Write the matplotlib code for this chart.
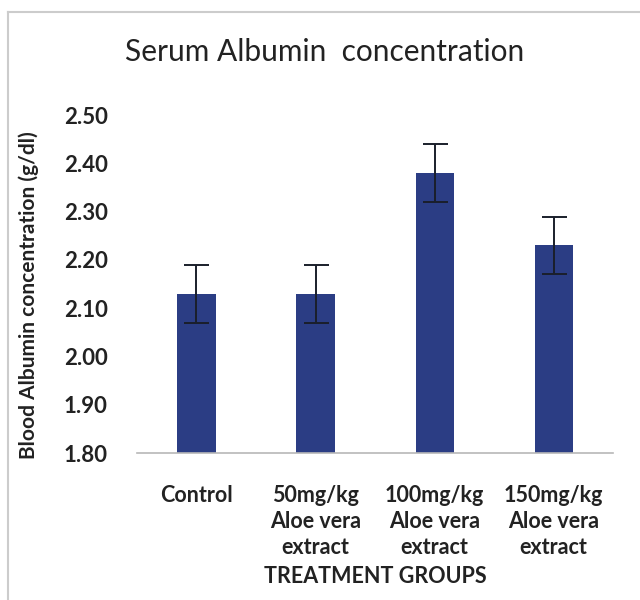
import matplotlib.pyplot as plt
from matplotlib.lines import Line2D

plt.rcParams['font.family'] = ['Lato', 'DejaVu Sans']

groups = ['Control',
          '50mg/kg\nAloe vera\nextract',
          '100mg/kg\nAloe vera\nextract',
          '150mg/kg\nAloe vera\nextract']
albumin = [2.13, 2.13, 2.38, 2.23]
err = [0.06, 0.06, 0.06, 0.06]
yticks = [1.80, 1.90, 2.00, 2.10, 2.20, 2.30, 2.40, 2.50]

fig = plt.figure(figsize=(6.4, 6.0), dpi=100)
ax = fig.add_axes([0.214, 0.245, 0.744, 0.563])

x = range(len(groups))
ax.bar(x, albumin, width=0.32, color='#2B3D84', zorder=2)
ax.errorbar(x, albumin, yerr=err, fmt='none', ecolor='#1a1f2b',
            elinewidth=1.4, capsize=9, capthick=1.4, zorder=3)

ax.set_xlim(-0.5, len(groups) - 0.5)
ax.set_ylim(1.80, 2.50)
ax.set_yticks(yticks)
ax.set_yticklabels([f'{v:.2f}' for v in yticks], fontsize=16, fontweight='bold',
                   color='#222222')
ax.set_xticks(list(x))
ax.set_xticklabels(groups, fontsize=15.5, fontweight='bold', color='#222222',
                   linespacing=1.3, va='top')
ax.tick_params(axis='both', length=0)
ax.tick_params(axis='y', pad=21)
ax.tick_params(axis='x', pad=23)

for s in ['top', 'right', 'left']:
    ax.spines[s].set_visible(False)
ax.spines['bottom'].set_color('#b8b8b8')
ax.spines['bottom'].set_linewidth(1.2)

ax.set_ylabel('Blood Albumin concentration (g/dl)', fontsize=15,
              fontweight='bold', color='#222222')
ax.yaxis.set_label_coords(-0.206, 0.467)
ax.set_xlabel('TREATMENT GROUPS', fontsize=15.5, fontweight='bold',
              color='#222222', labelpad=6)
fig.text(325 / 640, 1 - 52 / 600, 'Serum Albumin  concentration',
         fontsize=21.5, color='#222222', ha='center', va='center')

# outer frame (top and left edges only)
fig.add_artist(Line2D([0.0125, 0.0125], [0.0, 0.98], transform=fig.transFigure,
                      color='#cccccc', lw=1.5))
fig.add_artist(Line2D([0.0125, 1.0], [0.98, 0.98], transform=fig.transFigure,
                      color='#cccccc', lw=1.5))

fig.savefig('out.png', dpi=100)
